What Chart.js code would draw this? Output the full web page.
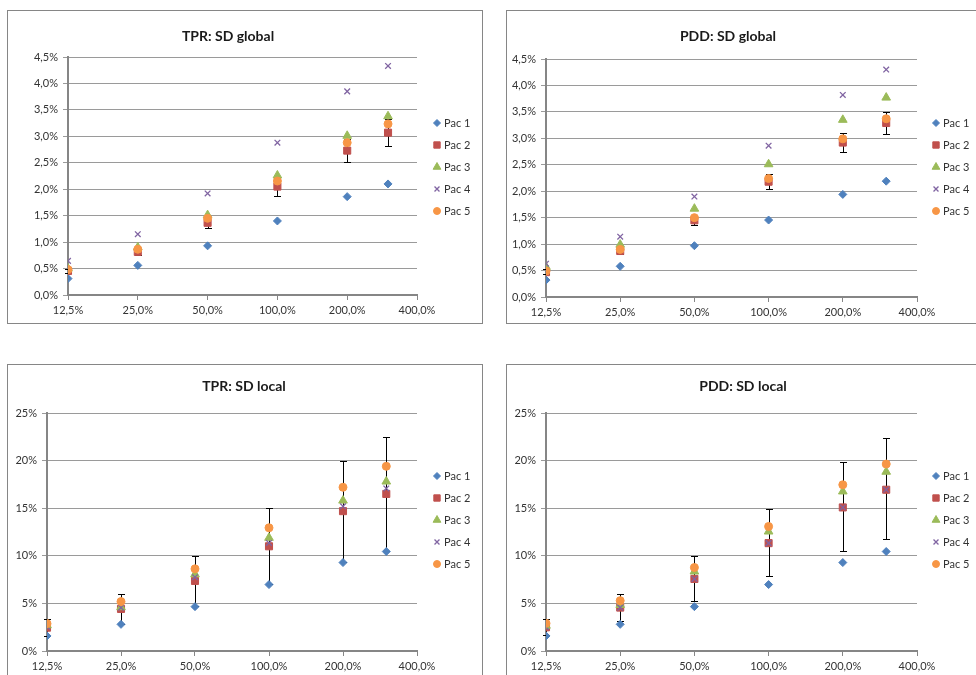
<!DOCTYPE html>
<html><head><meta charset="utf-8">
<script src="https://cdn.jsdelivr.net/npm/chart.js@4.4.0/dist/chart.umd.min.js"></script>
<style>
html,body{margin:0;padding:0;background:#fff;overflow:hidden;width:976px;height:675px;position:relative;}
.box{position:absolute;border:1px solid #868686;background:#fff;width:474px;height:312px;overflow:hidden;}
.box canvas{position:absolute;left:0;top:0;}
</style></head><body>
<div class="box" style="left:7px;top:10px;"><canvas id="c1" width="474" height="312"></canvas></div>
<div class="box" style="left:506px;top:10px;"><canvas id="c2" width="474" height="312"></canvas></div>
<div class="box" style="left:7px;top:364px;"><canvas id="c3" width="474" height="312"></canvas></div>
<div class="box" style="left:506px;top:364px;"><canvas id="c4" width="474" height="312"></canvas></div>
<script>
// ---------- data ----------
const xValues = [12.5, 25, 50, 100, 200, 300];
const xTickValues = [12.5, 25, 50, 100, 200, 400];
const seriesNames = ['Pac 1', 'Pac 2', 'Pac 3', 'Pac 4', 'Pac 5'];
const globalYTicks = [0, 0.5, 1, 1.5, 2, 2.5, 3, 3.5, 4, 4.5];
const localYTicks = [0, 5, 10, 15, 20, 25];

// TPR: SD global
const tprGlobalPac1 = [0.31, 0.56, 0.93, 1.40, 1.86, 2.10];
const tprGlobalPac2 = [0.455, 0.815, 1.365, 2.05, 2.73, 3.07];
const tprGlobalPac3 = [0.50, 0.90, 1.51, 2.26, 3.01, 3.38];
const tprGlobalPac4 = [0.645, 1.15, 1.92, 2.88, 3.85, 4.33];
const tprGlobalPac5 = [0.48, 0.865, 1.45, 2.155, 2.88, 3.235];
const tprGlobalErrLow = [0.42, 0.76, 1.26, 1.88, 2.51, 2.82];
const tprGlobalErrHigh = [0.49, 0.87, 1.47, 2.21, 2.95, 3.32];

// PDD: SD global
const pddGlobalPac1 = [0.32, 0.58, 0.97, 1.455, 1.94, 2.19];
const pddGlobalPac2 = [0.47, 0.87, 1.45, 2.18, 2.92, 3.29];
const pddGlobalPac3 = [0.57, 0.99, 1.67, 2.51, 3.35, 3.77];
const pddGlobalPac4 = [0.63, 1.14, 1.90, 2.86, 3.82, 4.30];
const pddGlobalPac5 = [0.49, 0.90, 1.50, 2.24, 2.99, 3.37];
const pddGlobalErrLow = [0.44, 0.82, 1.37, 2.05, 2.74, 3.08];
const pddGlobalErrHigh = [0.52, 0.94, 1.54, 2.33, 3.11, 3.49];

// TPR: SD local
const tprLocalPac1 = [1.58, 2.8, 4.66, 6.98, 9.29, 10.45];
const tprLocalPac2 = [2.45, 4.42, 7.36, 11.0, 14.69, 16.5];
const tprLocalPac3 = [2.7, 4.6, 8.06, 11.89, 15.8, 17.8];
const tprLocalPac4 = [2.55, 4.55, 7.75, 11.35, 15.2, 17.07];
const tprLocalPac5 = [2.88, 5.19, 8.63, 12.94, 17.2, 19.4];
const tprLocalErrLow = [1.55, 2.8, 4.7, 7.0, 9.4, 10.5];
const tprLocalErrHigh = [3.35, 6.0, 10.0, 15.0, 20.0, 22.5];

// PDD: SD local
const pddLocalPac1 = [1.58, 2.8, 4.66, 6.98, 9.29, 10.45];
const pddLocalPac2 = [2.49, 4.56, 7.57, 11.33, 15.08, 16.94];
const pddLocalPac3 = [2.66, 4.84, 8.35, 12.55, 16.76, 18.83];
const pddLocalPac4 = [2.52, 4.56, 7.57, 11.33, 15.08, 16.94];
const pddLocalPac5 = [2.91, 5.29, 8.77, 13.08, 17.46, 19.64];
const pddLocalErrLow = [1.65, 3.16, 5.26, 7.89, 10.48, 11.78];
const pddLocalErrHigh = [3.33, 6.0, 9.96, 14.94, 19.85, 22.34];

// ---------- styling ----------
const FONT = 'Lato, "Open Sans", sans-serif';
const markerStyles = [
  {color: '#4F81BD', style: 'rectRot', radius: 4, bw: 1},
  {color: '#C0504D', style: 'rect', radius: 5, bw: 1},
  {color: '#9BBB59', style: 'triangle', radius: 5, bw: 1},
  {color: '#8064A2', style: 'crossRot', radius: 4, bw: 1.3},
  {color: '#F79646', style: 'circle', radius: 4, bw: 1}
];

const decorPlugin = {
  id: 'decor',
  beforeDatasetsDraw(chart, args, opts) {
    const ctx = chart.ctx, xs = chart.scales.x, ys = chart.scales.y;
    ctx.save();
    ctx.strokeStyle = '#000';
    ctx.lineWidth = 1;
    opts.errX.forEach((xv, i) => {
      const px = Math.round(xs.getPixelForValue(xv)) + 0.5;
      const lo = Math.round(ys.getPixelForValue(opts.errLow[i])) + 0.5;
      const hi = Math.round(ys.getPixelForValue(opts.errHigh[i])) + 0.5;
      ctx.beginPath();
      ctx.moveTo(px, lo); ctx.lineTo(px, hi);
      ctx.moveTo(px - 3.5, lo); ctx.lineTo(px + 3.5, lo);
      ctx.moveTo(px - 3.5, hi); ctx.lineTo(px + 3.5, hi);
      ctx.stroke();
    });
    ctx.restore();
  },
  afterDraw(chart, args, opts) {
    const ctx = chart.ctx;
    ctx.save();
    // title
    ctx.fillStyle = '#1a1a1a';
    ctx.font = 'bold 14px ' + FONT;
    ctx.textAlign = 'center';
    ctx.textBaseline = 'middle';
    ctx.fillText(opts.title, opts.titleX, opts.titleY);
    // legend
    ctx.font = '11px ' + FONT;
    ctx.textAlign = 'left';
    chart.data.datasets.forEach((ds, i) => {
      const y = opts.legendY + i * 22;
      ctx.fillStyle = ds.backgroundColor;
      ctx.strokeStyle = ds.borderColor;
      ctx.lineWidth = ds.borderWidth;
      Chart.helpers.drawPoint(ctx, {pointStyle: ds.pointStyle, radius: ds.pointRadius - 0.5, rotation: 0, borderWidth: ds.borderWidth}, opts.legendX, y);
      ctx.fillStyle = '#333';
      ctx.fillText(ds.label, opts.legendX + 7, y + 0.5);
    });
    ctx.restore();
  }
};

function makeChart(id, series, errLow, errHigh, cfg) {
  const W = 474, H = 312;
  const datasets = series.map((arr, i) => ({
    label: seriesNames[i],
    data: xValues.map((xv, j) => ({x: xv, y: arr[j]})),
    pointStyle: markerStyles[i].style,
    pointRadius: markerStyles[i].radius,
    backgroundColor: markerStyles[i].color,
    borderColor: markerStyles[i].color,
    borderWidth: markerStyles[i].bw,
    showLine: false,
    order: 4 - i
  }));
  new Chart(document.getElementById(id), {
    type: 'scatter',
    data: {datasets},
    plugins: [decorPlugin],
    options: {
      responsive: false,
      animation: false,
      devicePixelRatio: 1,
      layout: {padding: {left: 0, top: cfg.top, right: W - cfg.right, bottom: 0}},
      plugins: {
        legend: {display: false},
        title: {display: false},
        tooltip: {enabled: false},
        decor: {
          title: cfg.title, titleX: cfg.titleX, titleY: cfg.titleY,
          legendX: cfg.legendX, legendY: cfg.legendY,
          errX: xValues, errLow, errHigh
        }
      },
      scales: {
        x: {
          type: 'logarithmic',
          min: 12.5, max: 400,
          afterBuildTicks: s => { s.ticks = xTickValues.map(v => ({value: v, major: false})); },
          afterFit: s => { s.height = H - cfg.bottom; },
          grid: {display: true, drawOnChartArea: false, drawTicks: true, tickLength: 5, color: '#868686', lineWidth: 1},
          border: {display: true, color: '#868686', width: 2},
          ticks: {
            autoSkip: false, maxRotation: 0, padding: 4,
            color: '#333', font: {family: FONT, size: 11},
            callback: v => v.toFixed(1).replace('.', ',') + '%'
          }
        },
        y: {
          min: 0, max: cfg.yMax,
          afterBuildTicks: s => { s.ticks = cfg.yTicks.map(v => ({value: v})); },
          afterFit: s => { s.width = cfg.left; },
          grid: {display: true, drawOnChartArea: true, drawTicks: true, tickLength: 5, color: '#9a9a9a', lineWidth: 1},
          border: {display: true, color: '#868686', width: 2},
          ticks: {
            padding: 5, color: '#333', font: {family: FONT, size: 11},
            callback: cfg.yFormat
          }
        }
      }
    }
  });
}

const fmtGlobal = v => v.toFixed(1).replace('.', ',') + '%';
const fmtLocal = v => Math.round(v) + '%';

makeChart('c1', [tprGlobalPac1, tprGlobalPac2, tprGlobalPac3, tprGlobalPac4, tprGlobalPac5], tprGlobalErrLow, tprGlobalErrHigh,
  {title: 'TPR: SD global', titleX: 220, titleY: 25, legendX: 429, legendY: 112,
   left: 60, right: 409, top: 46, bottom: 284, yMax: 4.5, yTicks: globalYTicks, yFormat: fmtGlobal});
makeChart('c2', [pddGlobalPac1, pddGlobalPac2, pddGlobalPac3, pddGlobalPac4, pddGlobalPac5], pddGlobalErrLow, pddGlobalErrHigh,
  {title: 'PDD: SD global', titleX: 221, titleY: 25, legendX: 429, legendY: 112,
   left: 39, right: 410, top: 48, bottom: 286, yMax: 4.5, yTicks: globalYTicks, yFormat: fmtGlobal});
makeChart('c3', [tprLocalPac1, tprLocalPac2, tprLocalPac3, tprLocalPac4, tprLocalPac5], tprLocalErrLow, tprLocalErrHigh,
  {title: 'TPR: SD local', titleX: 236, titleY: 21, legendX: 429, legendY: 111,
   left: 39, right: 409, top: 48, bottom: 286, yMax: 25, yTicks: localYTicks, yFormat: fmtLocal});
makeChart('c4', [pddLocalPac1, pddLocalPac2, pddLocalPac3, pddLocalPac4, pddLocalPac5], pddLocalErrLow, pddLocalErrHigh,
  {title: 'PDD: SD local', titleX: 236, titleY: 21, legendX: 429, legendY: 111,
   left: 39, right: 410, top: 48, bottom: 286, yMax: 25, yTicks: localYTicks, yFormat: fmtLocal});
</script>
</body></html>
